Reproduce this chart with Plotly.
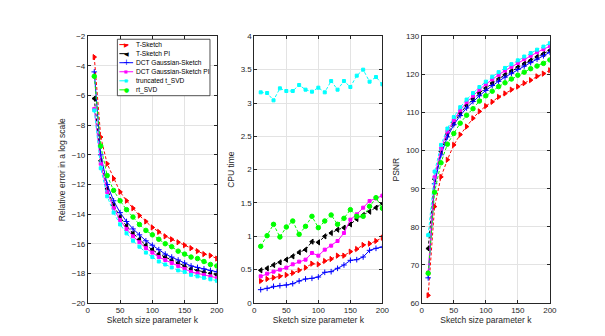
import plotly.graph_objects as go

# sketch size parameter
k = [10, 20, 30, 40, 50, 60, 70, 80, 90, 100, 110, 120, 130, 140, 150, 160, 170, 180, 190, 200]

names = ["T-Sketch", "T-Sketch PI", "DCT Gaussian-Sketch", "DCT Gaussian-Sketch PI", "truncated t_SVD", "rt_SVD"]

# relative error (log scale)
err_tsk = [-3.4, -8.8, -10.6, -11.6, -12.5, -13.1, -13.6, -14.1, -14.5, -14.9, -15.2, -15.5, -15.7, -15.9, -16.1, -16.3, -16.5, -16.7, -16.8, -17.0]
err_tskpi = [-6.2, -10.4, -12.3, -13.4, -14.2, -14.8, -15.3, -15.7, -16.1, -16.4, -16.7, -16.9, -17.1, -17.3, -17.5, -17.7, -17.8, -17.9, -18.0, -18.1]
err_dct = [-4.4, -10.0, -12.0, -13.1, -13.9, -14.5, -15.0, -15.4, -15.8, -16.1, -16.4, -16.7, -16.9, -17.1, -17.3, -17.5, -17.6, -17.7, -17.8, -17.9]
err_dctpi = [-6.9, -10.6, -12.5, -13.6, -14.4, -15.0, -15.5, -15.9, -16.3, -16.6, -16.9, -17.1, -17.3, -17.5, -17.7, -17.9, -18.0, -18.1, -18.2, -18.3]
err_tsvd = [-7.0, -10.9, -12.8, -13.9, -14.7, -15.3, -15.8, -16.2, -16.6, -16.9, -17.2, -17.4, -17.6, -17.8, -17.9, -18.1, -18.2, -18.3, -18.4, -18.5]
err_rt = [-4.7, -9.4, -11.4, -12.4, -13.1, -13.7, -14.2, -14.7, -15.1, -15.4, -15.7, -16.0, -16.2, -16.5, -16.7, -16.9, -17.0, -17.2, -17.4, -17.5]

# CPU time
cpu_tsk = [0.33, 0.36, 0.38, 0.40, 0.42, 0.45, 0.49, 0.53, 0.59, 0.58, 0.63, 0.66, 0.71, 0.71, 0.77, 0.81, 0.87, 0.89, 0.93, 0.98]
cpu_tskpi = [0.49, 0.52, 0.57, 0.61, 0.65, 0.70, 0.76, 0.80, 0.92, 0.91, 1.00, 1.05, 1.10, 1.13, 1.18, 1.26, 1.32, 1.37, 1.43, 1.49]
cpu_dct = [0.20, 0.22, 0.25, 0.26, 0.27, 0.29, 0.33, 0.36, 0.37, 0.39, 0.46, 0.47, 0.52, 0.57, 0.64, 0.65, 0.69, 0.79, 0.82, 0.84]
cpu_dctpi = [0.40, 0.44, 0.47, 0.50, 0.53, 0.58, 0.62, 0.65, 0.75, 0.71, 0.80, 0.86, 0.93, 1.05, 1.25, 1.33, 1.43, 1.53, 1.57, 1.61]
cpu_tsvd = [3.16, 3.15, 3.04, 3.22, 3.18, 3.18, 3.27, 3.20, 3.17, 3.23, 3.16, 3.33, 3.20, 3.33, 3.24, 3.41, 3.50, 3.32, 3.39, 3.28]
cpu_rt = [0.85, 1.01, 1.18, 0.99, 1.14, 1.23, 1.03, 1.15, 1.30, 1.13, 1.23, 1.32, 1.18, 1.27, 1.40, 1.30, 1.30, 1.45, 1.58, 1.42]

# PSNR
psnr_tsk = [62.0, 85.3, 93.1, 97.6, 101.5, 104.2, 106.3, 108.5, 110.3, 111.7, 112.8, 114.1, 115.0, 116.0, 116.8, 117.7, 118.5, 119.5, 120.2, 121.1]
psnr_tskpi = [74.3, 92.5, 99.8, 104.3, 107.3, 109.8, 111.8, 113.5, 115.1, 116.4, 117.7, 118.8, 119.9, 120.9, 121.9, 122.8, 123.7, 124.6, 125.4, 126.3]
psnr_dct = [66.6, 91.3, 98.9, 103.6, 106.8, 109.2, 111.2, 112.9, 114.4, 115.8, 117.1, 118.2, 119.3, 120.3, 121.3, 122.2, 123.1, 124.0, 124.9, 125.8]
psnr_dctpi = [68.0, 93.0, 100.5, 105.0, 108.0, 110.6, 112.7, 114.4, 116.0, 117.4, 118.7, 119.9, 121.0, 122.0, 123.0, 124.0, 124.9, 125.8, 126.6, 127.4]
psnr_tsvd = [77.8, 94.5, 101.5, 105.8, 108.8, 111.4, 113.4, 115.1, 116.7, 118.1, 119.4, 120.6, 121.7, 122.7, 123.7, 124.7, 125.6, 126.5, 127.3, 128.2]
psnr_rt = [67.8, 89.1, 96.8, 101.7, 104.5, 107.2, 109.3, 111.0, 113.0, 114.4, 115.6, 116.8, 117.8, 118.8, 119.8, 120.6, 121.5, 122.2, 122.9, 123.8]

colors = ["#ff0000", "#000000", "#0000ff", "#ff00ff", "#00ffff", "#00ff00"]
dashes = ["3px,2px", "3px,2px", "solid", "solid", "3px,2px", "3px,2px"]
symbols = ["triangle-right", "triangle-left", "cross-thin-open", "square", "square", "circle"]
msize = [4.5, 4.5, 4, 3, 3, 4.5]
legend_glyph = ["▶", "◀", "+", "■", "■", "●"]
glyph_size = [6, 6, 8, 4, 4, 6]

panels = [
    [err_tsk, err_tskpi, err_dct, err_dctpi, err_tsvd, err_rt],
    [cpu_tsk, cpu_tskpi, cpu_dct, cpu_dctpi, cpu_tsvd, cpu_rt],
    [psnr_tsk, psnr_tskpi, psnr_dct, psnr_dctpi, psnr_tsvd, psnr_rt],
]

fig = go.Figure()
for p, series in enumerate(panels):
    ax = "" if p == 0 else str(p + 1)
    for i, y in enumerate(series):
        fig.add_trace(go.Scatter(
            x=k, y=y, mode="lines+markers", name=names[i], showlegend=False,
            line=dict(color=colors[i], dash=dashes[i], width=1),
            marker=dict(symbol=symbols[i], size=msize[i], color=colors[i],
                        line=dict(color=colors[i], width=1)),
            xaxis="x" + ax, yaxis="y" + ax,
        ))

W, H = 605, 336
def px(xp):
    return xp / W
def py(yp):
    return (H - yp) / H

axis_style = dict(showline=True, linecolor="#262626", linewidth=0.8, mirror="ticks",
                  ticks="inside", ticklen=3, tickcolor="#262626",
                  showgrid=True, gridcolor="#e3e3e3", zeroline=False,
                  tickfont=dict(size=8, color="#262626"),
                  title_font=dict(size=8.5, color="#262626"))

xdoms = [[px(79), px(210)], [px(248), px(378)], [px(418), px(548)]]
ydom = [py(299), py(25)]
yset = [dict(range=[-20, -2], dtick=2, title="Relative error in a log scale"),
        dict(range=[0, 4], dtick=0.5, title="CPU time"),
        dict(range=[60, 130], dtick=10, title="PSNR")]

lay = {}
for p in range(3):
    ax = "" if p == 0 else str(p + 1)
    lay["xaxis" + ax] = dict(axis_style, domain=xdoms[p], range=[0, 200], dtick=50,
                             title=dict(text="Sketch size parameter k", standoff=0),
                             anchor="y" + ax)
    lay["yaxis" + ax] = dict(axis_style, domain=ydom, range=yset[p]["range"],
                             dtick=yset[p]["dtick"],
                             title=dict(text=yset[p]["title"], standoff=4),
                             anchor="x" + ax)

# hand-made MATLAB style legend in the first panel
shapes = [dict(type="rect", xref="paper", yref="paper",
               x0=px(109), x1=px(203), y0=py(86), y1=py(28),
               fillcolor="white", line=dict(color="#262626", width=0.8), layer="above")]
annotations = []
for i, nm in enumerate(names):
    yc = 33.5 + 9.3 * i
    shapes.append(dict(type="line", xref="paper", yref="paper",
                       x0=px(111), x1=px(125), y0=py(yc), y1=py(yc),
                       line=dict(color=colors[i], width=1,
                                 dash="dash" if dashes[i] != "solid" else "solid"),
                       layer="above"))
    annotations.append(dict(xref="paper", yref="paper", x=px(118), y=py(yc),
                            text=legend_glyph[i], showarrow=False,
                            font=dict(size=glyph_size[i], color=colors[i],
                                      family="DejaVu Sans"),
                            xanchor="center", yanchor="middle"))
    annotations.append(dict(xref="paper", yref="paper", x=px(126), y=py(yc),
                            text=nm, showarrow=False,
                            font=dict(size=6.6, color="#000000"),
                            xanchor="left", yanchor="middle"))

fig.update_layout(
    width=W, height=H,
    margin=dict(l=0, r=0, t=0, b=0),
    paper_bgcolor="white", plot_bgcolor="white",
    font=dict(family="Liberation Sans, Arial, sans-serif", color="#262626"),
    showlegend=False,
    shapes=shapes, annotations=annotations,
    **lay,
)

fig.write_html("out.html")
